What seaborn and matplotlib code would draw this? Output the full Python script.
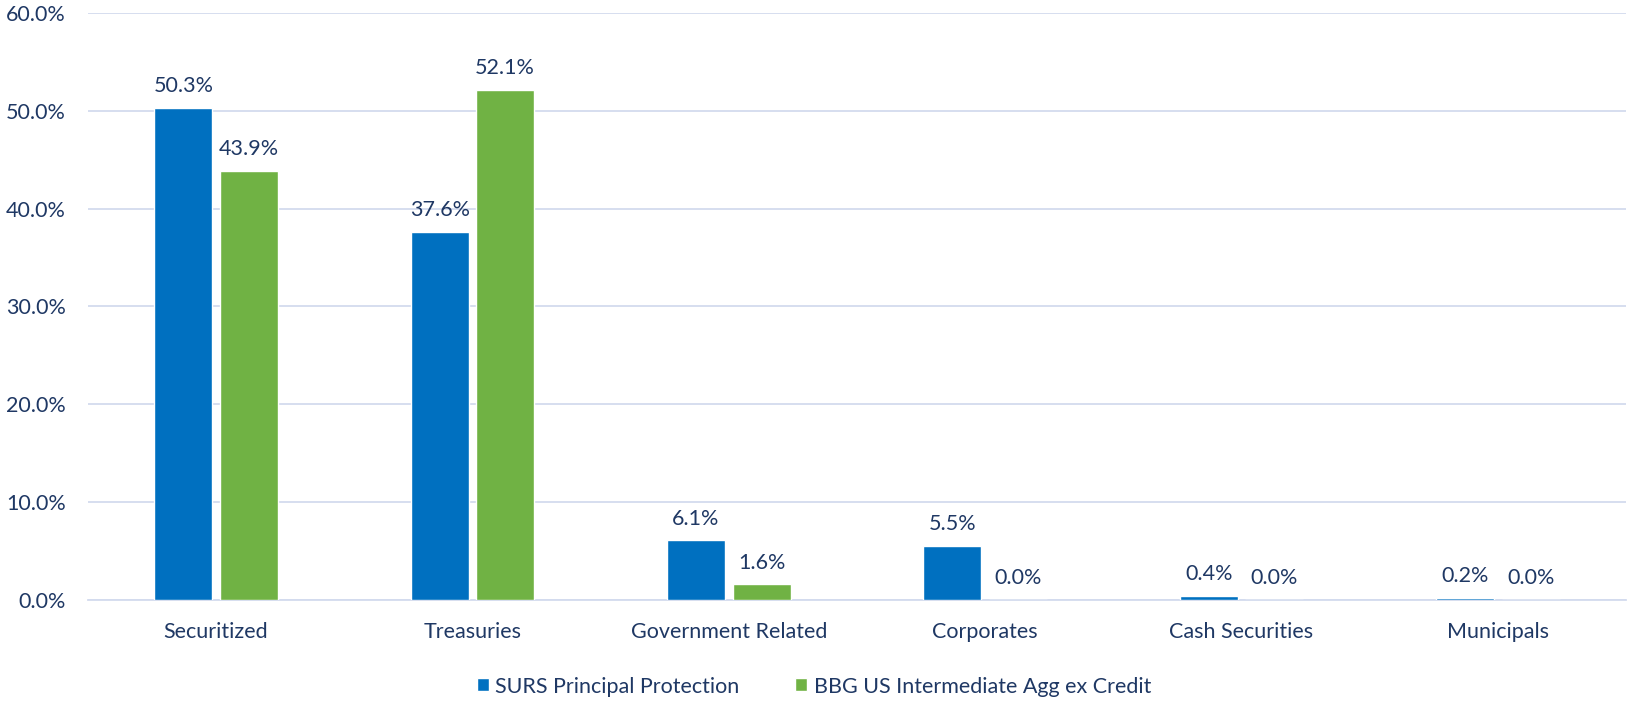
import matplotlib
matplotlib.use("Agg")
import matplotlib.pyplot as plt
import seaborn as sns
import pandas as pd
from matplotlib.patches import Patch
from matplotlib.ticker import FuncFormatter

categories = ["Securitized", "Treasuries", "Government Related", "Corporates",
              "Cash Securities", "Municipals"]
surs_values = [50.3, 37.6, 6.1, 5.5, 0.4, 0.2]
bbg_values = [43.9, 52.1, 1.6, 0.0, 0.0, 0.0]
series_names = ["SURS Principal Protection", "BBG US Intermediate Agg ex Credit"]
y_ticks = [0, 10, 20, 30, 40, 50, 60]

TEXT = "#1F3864"
BLUE = "#0070C0"
GREEN = "#70B244"
GRID = "#D3DBEE"
FS = 15.5

sns.set_theme(style="white")
plt.rcParams["font.family"] = ["Lato", "DejaVu Sans"]

df = pd.DataFrame({
    "Category": categories * 2,
    "Value": surs_values + bbg_values,
    "Series": [series_names[0]] * len(categories) + [series_names[1]] * len(categories),
})

fig = plt.figure(figsize=(16.28, 7.02), dpi=100)
ax = fig.add_axes([0.054, 0.1453, 0.9448, 0.8362])

sns.barplot(data=df, x="Category", y="Value", hue="Series", order=categories,
            hue_order=series_names, palette=[BLUE, GREEN], width=0.511, gap=0.115,
            saturation=1, errorbar=None, legend=False, ax=ax, zorder=3)

for cont in ax.containers:
    ax.bar_label(cont, fmt="%.1f%%", padding=8.5, color=TEXT, fontsize=FS)

ax.set_xlim(-0.5, len(categories) - 0.5)
ax.set_ylim(0, 60)
ax.set_yticks(y_ticks)
ax.yaxis.set_major_formatter(FuncFormatter(lambda v, _: f"{v:.1f}%"))
ax.grid(axis="y", color=GRID, linewidth=1.3, zorder=0)
ax.grid(axis="x", visible=False)
for side in ["top", "right", "left"]:
    ax.spines[side].set_visible(False)
ax.spines["bottom"].set_color(GRID)
ax.spines["bottom"].set_linewidth(1.3)
ax.tick_params(axis="y", length=0, pad=16, labelsize=FS, labelcolor=TEXT)
ax.tick_params(axis="x", length=0, pad=16, labelsize=FS, labelcolor=TEXT)
ax.set_xlabel("")
ax.set_ylabel("")

handles = [Patch(facecolor=BLUE, label=series_names[0]),
           Patch(facecolor=GREEN, label=series_names[1])]
fig.legend(handles=handles, loc="center", bbox_to_anchor=(0.5, 0.022), ncol=2,
           frameon=False, fontsize=FS, labelcolor=TEXT, handlelength=0.55,
           handleheight=0.55, handletextpad=0.3, columnspacing=2.6)

fig.savefig("out.png", dpi=100)
